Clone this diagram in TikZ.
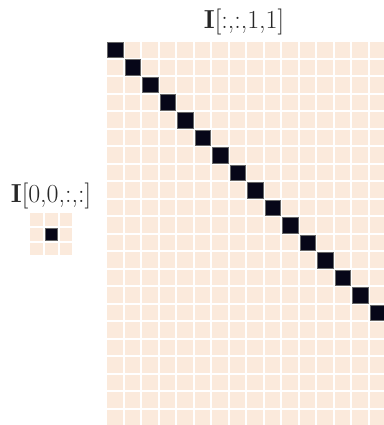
\documentclass[tikz,border=0pt]{standalone}
\definecolor{peach}{RGB}{251,234,220}
\definecolor{ink}{RGB}{6,6,24}
\begin{document}
\begin{tikzpicture}[x=1pt,y=-1pt,
  bigcell/.style={rectangle,inner sep=0pt,minimum size=15.5pt,anchor=north west,fill=peach},
  smallcell/.style={rectangle,inner sep=0pt,minimum size=12.7pt,anchor=north west,fill=peach},
  hot/.style={fill=ink,draw=black!60,line width=0.5pt},
  lbl/.style={inner sep=0pt,anchor=base,text=black!85,font=\fontsize{26}{30}\selectfont}]
\useasboundingbox (0,0) rectangle (383,425);
% big grid 16 x 22
\foreach \i in {0,...,15}{
  \foreach \j in {0,...,21}{
    \ifnum\i=\j
      \node[bigcell,hot] (b-\i-\j) at ({107+17.5*\i},{42+17.5*\j}) {};
    \else
      \node[bigcell] (b-\i-\j) at ({107+17.5*\i},{42+17.5*\j}) {};
    \fi
  }
}
% small grid 3 x 3
\foreach \i in {0,1,2}{
  \foreach \j in {0,1,2}{
    \ifnum\i=1 \ifnum\j=1
      \node[smallcell,hot] (s-\i-\j) at ({30+14.7*\i},{213+14.7*\j}) {};
    \else
      \node[smallcell] (s-\i-\j) at ({30+14.7*\i},{213+14.7*\j}) {};
    \fi\else
      \node[smallcell] (s-\i-\j) at ({30+14.7*\i},{213+14.7*\j}) {};
    \fi
  }
}
\node[lbl] (top) at (244,29) {\textbf{I}[:,:,1,1]};
\node[lbl] (left) at (51,202) {\textbf{I}[0,0,:,:]};
\end{tikzpicture}
\end{document}
